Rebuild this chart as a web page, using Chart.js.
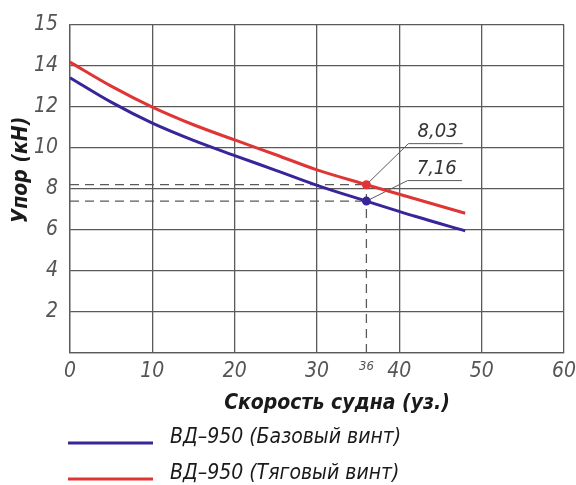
<!DOCTYPE html>
<html>
<head>
<meta charset="utf-8">
<script src="https://cdn.jsdelivr.net/npm/chart.js@4"></script>
<style>
  html, body { margin: 0; padding: 0; background: #fff; }
  #wrap { width: 576px; height: 485px; }
</style>
</head>
<body>
<div id="wrap"><canvas id="thrustChart" width="576" height="485"></canvas></div>
<script>
// speed of the vessel, knots
const speed = [0, 5, 10, 15, 20, 25, 30, 36, 42, 48];
// thrust, kN
const baseThrust = [13.41, 12.22, 11.2, 10.36, 9.62, 8.9, 8.17, 7.4, 6.65, 5.95];
const tractionThrust = [14.17, 13.0, 11.98, 11.12, 10.38, 9.66, 8.92, 8.2, 7.5, 6.81];
const seriesNames = ['ВД–950 (Базовый винт)', 'ВД–950 (Тяговый винт)'];

// marked operating point
const markSpeed = 36;
const markThrust = [7.4, 8.2];
const markText = ['7,16', '8,03'];
const leaderElbow = [[41.0, 8.4], [41.1, 10.2]];
const leaderEnd = [47.6, 47.7];

const xTicks = [0, 10, 20, 30, 36, 40, 50, 60];

const FONT = "'Liberation Sans Narrow', 'DejaVu Sans Condensed', 'Liberation Sans', sans-serif";
const BLUE = '#38259a';
const RED = '#e03535';
const GRID = '#5a5a5a';

const toXY = (xs, ys) => xs.map((x, i) => ({ x: x, y: ys[i] }));
const markIdx = speed.indexOf(markSpeed);

function curve(label, ys, color) {
    return {
        label: label,
        data: toXY(speed, ys),
        showLine: true,
        borderColor: color,
        backgroundColor: color,
        borderWidth: 3,
        cubicInterpolationMode: 'monotone',
        pointRadius: ctx => ctx.dataIndex === markIdx ? 3 : 0,
        order: 0
    };
}

function guide(points, dashed) {
    return {
        label: '',
        data: points,
        showLine: true,
        borderColor: GRID,
        borderWidth: dashed ? 1.3 : 1,
        borderDash: dashed ? [9, 6] : [],
        pointRadius: 0,
        tension: 0,
        order: 5
    };
}

const datasets = [
    curve(seriesNames[0], baseThrust, BLUE),
    curve(seriesNames[1], tractionThrust, RED)
];
markThrust.forEach((v, i) => {
    datasets.push(guide([{ x: 0, y: v }, { x: markSpeed, y: v }], true));
    datasets.push(guide([{ x: markSpeed, y: v }, { x: leaderElbow[i][0], y: leaderElbow[i][1] }, { x: leaderEnd[i], y: leaderElbow[i][1] }], false));
});
datasets.push(guide([{ x: markSpeed, y: 0 }, { x: markSpeed, y: Math.max(...markThrust) }], true));

// titles, value labels and legend drawn on top of the chart
const extras = {
    id: 'extras',
    afterDraw(chart) {
        const c = chart.ctx;
        const xs = chart.scales.x, ys = chart.scales.y;
        c.save();
        c.fillStyle = '#333';
        c.textAlign = 'center';
        c.textBaseline = 'alphabetic';
        c.font = 'italic 20px ' + FONT;
        markText.forEach((t, i) => {
            const px = (xs.getPixelForValue(leaderElbow[i][0]) + xs.getPixelForValue(leaderEnd[i])) / 2 + 2;
            c.fillText(t, px, ys.getPixelForValue(leaderElbow[i][1]) - 7);
        });

        c.fillStyle = '#1a1a1a';
        c.font = 'italic bold 21px ' + FONT;
        c.textBaseline = 'middle';
        c.fillText('Скорость судна (уз.)', 337, 404);
        c.save();
        c.translate(22, 170);
        c.rotate(-Math.PI / 2);
        c.fillText('Упор (кН)', 0, 0);
        c.restore();

        const rows = [443, 479];
        [BLUE, RED].forEach((col, i) => {
            c.strokeStyle = col;
            c.lineWidth = 3;
            c.beginPath();
            c.moveTo(68, rows[i]);
            c.lineTo(153, rows[i]);
            c.stroke();
            c.fillStyle = '#1a1a1a';
            c.textAlign = 'left';
            c.font = 'italic 21px ' + FONT;
            c.fillText(seriesNames[i], 170, rows[i] - 5);
        });
        c.restore();
    }
};

const ctx = document.getElementById('thrustChart').getContext('2d');
const thrustChart = new Chart(ctx, {
    type: 'scatter',
    data: { datasets: datasets },
    options: {
        responsive: false,
        animation: false,
        layout: { padding: { top: 24, right: 12, bottom: 70, left: 0 } },
        plugins: {
            legend: { display: false },
            tooltip: { enabled: false }
        },
        scales: {
            x: {
                type: 'linear',
                min: 0,
                max: 60,
                afterBuildTicks: scale => { scale.ticks = xTicks.map(v => ({ value: v })); },
                afterFit: scale => {
                    scale.height = 62;
                    scale.paddingRight = 0;
                    scale.paddingLeft = 0;
                },
                grid: {
                    color: c => c.tick && c.tick.value === markSpeed ? 'rgba(0,0,0,0)' : GRID,
                    lineWidth: 1.3,
                    drawTicks: false
                },
                border: { color: GRID, width: 1.3 },
                ticks: {
                    padding: 6,
                    maxRotation: 0,
                    autoSkip: false,
                    color: '#555',
                    font: c => ({
                        family: FONT,
                        style: 'italic',
                        size: c.tick && c.tick.value === markSpeed ? 13 : 21
                    })
                }
            },
            y: {
                min: 0,
                max: 16,
                afterFit: scale => { scale.width = 70; },
                grid: { color: GRID, lineWidth: 1.3, drawTicks: false },
                border: { color: GRID, width: 1.3 },
                ticks: {
                    stepSize: 2,
                    padding: 12,
                    color: '#555',
                    font: { family: FONT, style: 'italic', size: 21 },
                    callback: v => v === 0 ? '' : (v === 16 ? '15' : v)
                }
            }
        }
    },
    plugins: [extras]
});
</script>
</body>
</html>
